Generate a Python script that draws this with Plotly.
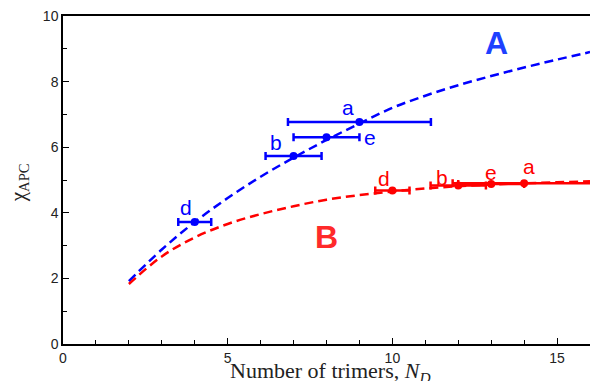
import plotly.graph_objects as go

# Fit curves
curve_x = [2, 3, 4, 5, 6, 7, 8, 9, 10, 11, 12, 13, 14, 15, 16]
curve_A = [1.92, 2.88, 3.72, 4.45, 5.10, 5.68, 6.22, 6.72, 7.20, 7.57, 7.89, 8.17, 8.43, 8.67, 8.90]
curve_B = [1.83, 2.67, 3.25, 3.66, 3.96, 4.20, 4.40, 4.54, 4.65, 4.74, 4.81, 4.86, 4.90, 4.93, 4.96]

# Data points with horizontal error bars
labels = ["d", "b", "e", "a"]
A_x = [4.0, 7.0, 8.0, 9.0]
A_y = [3.72, 5.73, 6.30, 6.77]
A_err = [0.5, 0.85, 1.0, 2.17]
B_x = [10.0, 12.0, 13.0, 14.0]
B_y = [4.68, 4.83, 4.88, 4.90]
B_err = [0.52, 0.84, 1.0, 2.17]

blue = "#0000ff"
red = "#ff0000"

fig = go.Figure()
fig.add_trace(go.Scatter(x=curve_x, y=curve_A, mode="lines", line=dict(color=blue, width=2.5, dash="9px,5px", shape="spline"), showlegend=False))
fig.add_trace(go.Scatter(x=curve_x, y=curve_B, mode="lines", line=dict(color=red, width=2.5, dash="9px,5px", shape="spline"), showlegend=False))
fig.add_trace(go.Scatter(x=A_x, y=A_y, mode="markers", marker=dict(color=blue, size=8),
                         error_x=dict(type="data", array=A_err, color=blue, thickness=2.5, width=4), showlegend=False))
fig.add_trace(go.Scatter(x=B_x, y=B_y, mode="markers", marker=dict(color=red, size=8),
                         error_x=dict(type="data", array=B_err, color=red, thickness=2.5, width=4), showlegend=False))

# Point labels
A_lab_pos = [(3.73, 4.15), (6.48, 6.13), (9.33, 6.31), (8.64, 7.2)]
B_lab_pos = [(9.76, 5.06), (11.5, 5.09), (13.0, 5.24), (14.15, 5.4)]
for lab, (lx, ly) in zip(labels, A_lab_pos):
    fig.add_annotation(x=lx, y=ly, text=lab, showarrow=False, font=dict(family="Liberation Sans", size=21, color=blue))
for lab, (lx, ly) in zip(labels, B_lab_pos):
    fig.add_annotation(x=lx, y=ly, text=lab, showarrow=False, font=dict(family="Liberation Sans", size=21, color=red))

fig.add_annotation(x=13.15, y=9.18, text="<b>A</b>", showarrow=False, font=dict(family="Liberation Sans", size=32, color="#1e40ff"))
fig.add_annotation(x=8.0, y=3.27, text="<b>B</b>", showarrow=False, font=dict(family="Liberation Sans", size=32, color="#ff2a2a"))

# Axis titles as paper annotations
fig.add_annotation(xref="paper", yref="paper", x=0.507, xanchor="center", y=0, yshift=-28, yanchor="middle",
                   text="Number of trimers, <i>N</i><sub><i>D</i></sub>", showarrow=False,
                   font=dict(family="Liberation Serif", size=22, color="#222"))
fig.add_annotation(xref="paper", yref="paper", x=0, xanchor="center", xshift=-44, y=0.49, yanchor="middle",
                   textangle=-90, text="χ<sub>APC</sub>", showarrow=False,
                   font=dict(family="Liberation Serif", size=21, color="#222"))

axis_common = dict(
    showline=True, linecolor="#000", linewidth=1.5, mirror=True,
    ticks="inside", ticklen=6, tickwidth=1, tickcolor="#000",
    showgrid=False, zeroline=False, automargin=False,
    tickfont=dict(family="Liberation Sans", size=14, color="#222"),
)
fig.update_xaxes(range=[0, 16], dtick=5, tick0=0,
                 minor=dict(dtick=1, ticks="inside", ticklen=4, tickcolor="#000"),
                 **axis_common)
fig.update_yaxes(range=[0, 10], dtick=2, tick0=0,
                 minor=dict(dtick=1, ticks="inside", ticklen=4, tickcolor="#000"),
                 **axis_common)

fig.update_layout(width=590, height=381, margin=dict(l=63, r=0, t=16, b=37, autoexpand=False),
                  plot_bgcolor="white", paper_bgcolor="white")

fig.write_html("out.html", config={"displayModeBar": False},
               post_script="document.body.style.margin='0';document.body.style.overflow='hidden';")
